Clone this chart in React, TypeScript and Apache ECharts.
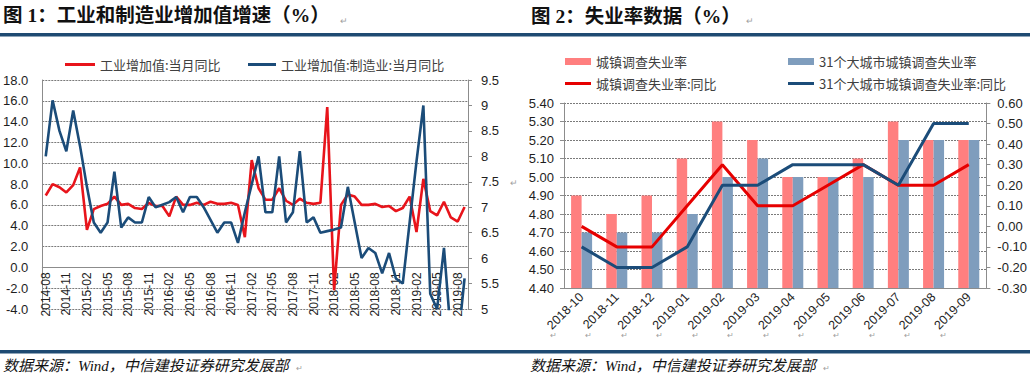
import React, { useEffect, useRef } from "react";
import * as echarts from "echarts";

// ---------- Chart 1 data ----------
const months1 = [
  "2014-08","2014-09","2014-10","2014-11","2014-12",
  "2015-01","2015-02","2015-03","2015-04","2015-05","2015-06","2015-07","2015-08","2015-09","2015-10","2015-11","2015-12",
  "2016-01","2016-02","2016-03","2016-04","2016-05","2016-06","2016-07","2016-08","2016-09","2016-10","2016-11","2016-12",
  "2017-01","2017-02","2017-03","2017-04","2017-05","2017-06","2017-07","2017-08","2017-09","2017-10","2017-11","2017-12",
  "2018-01","2018-02","2018-03","2018-04","2018-05","2018-06","2018-07","2018-08","2018-09","2018-10","2018-11","2018-12",
  "2019-01","2019-02","2019-03","2019-04","2019-05","2019-06","2019-07","2019-08","2019-09",
];
// 工业增加值:当月同比 (left axis)
const industryYoY = [
  6.9, 8.0, 7.7, 7.2, 7.9,
  9.6, 3.6, 5.6, 5.9, 6.1, 6.8, 6.0, 6.1, 5.7, 5.6, 6.2, 5.9,
  5.9, 4.9, 6.8, 6.0, 6.0, 6.2, 6.0, 6.3, 6.1, 6.1, 6.2, 6.0,
  2.9, 10.3, 7.6, 6.5, 6.5, 7.6, 6.4, 6.0, 6.6, 6.2, 6.1, 6.2,
  15.4, -2.2, 6.0, 7.0, 6.8, 6.0, 6.0, 6.1, 5.8, 5.9, 5.4, 5.7,
  6.8, 3.4, 8.5, 5.4, 5.0, 6.3, 4.8, 4.4, 5.8,
];
// 工业增加值:制造业:当月同比 (right axis)
const manufYoY = [
  8.0, 9.1, 8.5, 8.1, 8.9,
  8.2, 7.4, 6.7, 6.5, 6.7, 7.7, 6.6, 6.8, 6.7, 6.7, 7.2, 7.0,
  7.05, 7.1, 7.2, 6.9, 7.2, 7.2, 7.0, 6.75, 6.5, 6.7, 6.7, 6.3,
  6.9, 7.45, 8.0, 6.9, 6.9, 8.0, 6.7, 6.9, 8.1, 6.7, 6.8, 6.5,
  6.53, 6.56, 6.6, 7.4, 6.7, 6.0, 6.2, 6.1, 5.7, 6.1, 5.6, 5.5,
  6.7, 7.9, 9.0, 5.3, 5.0, 6.2, 4.5, 4.3, 5.6,
];
const leftTicks1 = { min: -4, max: 18, step: 2 };
const rightTicks1 = { min: 5, max: 9.5, step: 0.5 };

// ---------- Chart 2 data ----------
const months2 = ["2018-10","2018-11","2018-12","2019-01","2019-02","2019-03","2019-04","2019-05","2019-06","2019-07","2019-08","2019-09"];
const urbanRate = [4.9, 4.8, 4.9, 5.1, 5.3, 5.2, 5.0, 5.0, 5.1, 5.3, 5.2, 5.2];
const city31Rate = [4.7, 4.7, 4.7, 4.8, 5.0, 5.1, 5.0, 5.0, 5.0, 5.2, 5.2, 5.2];
const urbanRateYoY = [0.0, -0.1, -0.1, 0.1, 0.3, 0.1, 0.1, 0.2, 0.3, 0.2, 0.2, 0.3];
const city31RateYoY = [-0.1, -0.2, -0.2, -0.1, 0.2, 0.2, 0.3, 0.3, 0.3, 0.2, 0.5, 0.5];

const NAME_IND = "工业增加值:当月同比";
const NAME_MFG = "工业增加值:制造业:当月同比";
const NAME_UR = "城镇调查失业率";
const NAME_31 = "31个大城市城镇调查失业率";
const NAME_URY = "城镇调查失业率:同比";
const NAME_31Y = "31个大城市城镇调查失业率:同比";

const SANS = "'Liberation Sans', 'Noto Sans CJK SC', sans-serif";
const CJK = "'Noto Sans CJK SC', sans-serif";
const TITLE_FONT = "'Liberation Serif', 'Noto Sans CJK SC', serif";

const RED = "#E8141B";
const NAVY = "#1B4C79";
const PINK = "#FF7F7F";
const STEEL = "#7F9DBD";
const AXIS = "#8C8C8C";
const GRID = "#7A7A7A";
const LABEL = "#1E1E1E";

// grid geometry
const G1_TOP = 80;
const G1_BOTTOM_PX = 309;
const G2_LEFT = 564;
const G2_RIGHT_PX = 989;

export default function App() {
  const ref = useRef<HTMLDivElement>(null);

  useEffect(() => {
    if (!ref.current) return;
    const chart = echarts.init(ref.current, null, { renderer: "svg" });

    const legendBase = {
      orient: "horizontal",
      textStyle: { color: "#404040", fontSize: 13, fontFamily: CJK },
      selectedMode: false,
    };

    const retMark = (x: number, y: number, size = 9) => ({
      type: "text",
      x,
      y,
      style: { text: "↵", fontSize: size, fill: "#A0A0A0", fontFamily: SANS, verticalAlign: "middle" },
    });

    // x axis of chart 1 sits on the zero line of the left axis
    const h1 = G1_BOTTOM_PX - G1_TOP;
    const zeroOffset = -((0 - leftTicks1.min) / (leftTicks1.max - leftTicks1.min)) * h1;

    // paragraph marks below the right chart's category labels
    const catW = (G2_RIGHT_PX - G2_LEFT) / months2.length;
    const labelMarks = months2.map((_, k) => retMark(G2_LEFT + catW * k - 14, 335, 8));

    const option: any = {
      animation: false,
      textStyle: { fontFamily: SANS },
      graphic: [
        {
          type: "text",
          x: 3,
          y: 15,
          style: {
            text: "图 1：工业和制造业增加值增速（%）",
            fontSize: 19.5,
            fontWeight: "bold",
            fontFamily: TITLE_FONT,
            fill: "#111",
            verticalAlign: "middle",
          },
        },
        retMark(340, 21),
        {
          type: "text",
          x: 531,
          y: 16,
          style: {
            text: "图 2：失业率数据（%）",
            fontSize: 19.5,
            fontWeight: "bold",
            fontFamily: TITLE_FONT,
            fill: "#111",
            verticalAlign: "middle",
          },
        },
        retMark(746, 21),
        { type: "rect", shape: { x: 0, y: 33, width: 1030, height: 3.5 }, style: { fill: "#1E4A72" } },
        { type: "rect", shape: { x: 0, y: 350, width: 1030, height: 3.5 }, style: { fill: "#1E4A72" } },
        retMark(510, 183),
        ...labelMarks,
        {
          type: "text",
          x: 3,
          y: 366,
          style: {
            text: "数据来源：Wind，中信建投证券研究发展部",
            fontSize: 15,
            fontStyle: "italic",
            fontFamily: TITLE_FONT,
            fill: "#111",
            verticalAlign: "middle",
          },
        },
        retMark(296, 368, 8),
        {
          type: "text",
          x: 530,
          y: 366,
          style: {
            text: "数据来源：Wind，中信建投证券研究发展部",
            fontSize: 15,
            fontStyle: "italic",
            fontFamily: TITLE_FONT,
            fill: "#111",
            verticalAlign: "middle",
          },
        },
        retMark(823, 368, 8),
      ],
      legend: [
        { ...legendBase, left: 60, top: 53, itemWidth: 30, itemHeight: 3, data: [{ name: NAME_IND, icon: "rect" }] },
        { ...legendBase, left: 243, top: 53, itemWidth: 28, itemHeight: 3, data: [{ name: NAME_MFG, icon: "rect" }] },
        { ...legendBase, left: 560, top: 50, itemWidth: 26, itemHeight: 7, data: [{ name: NAME_UR, icon: "rect" }] },
        { ...legendBase, left: 783, top: 50, itemWidth: 26, itemHeight: 7, data: [{ name: NAME_31, icon: "rect" }] },
        { ...legendBase, left: 560, top: 72, itemWidth: 26, itemHeight: 3, data: [{ name: NAME_URY, icon: "rect" }] },
        { ...legendBase, left: 783, top: 72, itemWidth: 26, itemHeight: 3, data: [{ name: NAME_31Y, icon: "rect" }] },
      ],
      grid: [
        { left: 39, right: 562, top: G1_TOP, bottom: 380 - G1_BOTTOM_PX },
        { left: G2_LEFT, right: 1030 - G2_RIGHT_PX, top: 103, bottom: 92 },
      ],
      xAxis: [
        {
          gridIndex: 0,
          type: "category",
          data: months1,
          boundaryGap: true,
          offset: zeroOffset,
          axisLine: { onZero: false, lineStyle: { color: AXIS, width: 1 } },
          axisTick: { interval: 2, length: 5, lineStyle: { color: AXIS } },
          axisLabel: { interval: 2, rotate: 90, fontSize: 12, color: LABEL, margin: 5 },
          splitLine: { show: false },
        },
        {
          gridIndex: 1,
          type: "category",
          data: months2,
          boundaryGap: true,
          axisLine: { onZero: false, lineStyle: { color: AXIS, width: 1 } },
          axisTick: { length: 5, lineStyle: { color: AXIS } },
          axisLabel: { interval: 0, rotate: 45, fontSize: 12.5, color: LABEL, margin: 7 },
          splitLine: { show: false },
        },
      ],
      yAxis: [
        {
          gridIndex: 0,
          type: "value",
          min: leftTicks1.min,
          max: leftTicks1.max,
          interval: leftTicks1.step,
          axisLine: { show: true, lineStyle: { color: AXIS } },
          axisTick: { show: false },
          axisLabel: { fontSize: 13, color: LABEL, margin: 14, formatter: (v: number) => v.toFixed(1) },
          splitLine: { show: true, lineStyle: { color: GRID, type: [2, 1], width: 1 } },
        },
        {
          gridIndex: 0,
          type: "value",
          position: "right",
          min: rightTicks1.min,
          max: rightTicks1.max,
          interval: rightTicks1.step,
          axisLine: { show: true, lineStyle: { color: AXIS } },
          axisTick: { show: true, length: 4, lineStyle: { color: AXIS } },
          axisLabel: { fontSize: 13, color: LABEL, margin: 13, formatter: (v: number) => String(v) },
          splitLine: { show: false },
        },
        {
          gridIndex: 1,
          type: "value",
          min: 4.4,
          max: 5.4,
          interval: 0.1,
          axisLine: { show: true, lineStyle: { color: AXIS } },
          axisTick: { show: true, length: 4, lineStyle: { color: AXIS } },
          axisLabel: { fontSize: 13, color: LABEL, margin: 10, formatter: (v: number) => v.toFixed(2) },
          splitLine: { show: true, lineStyle: { color: GRID, type: [2, 1], width: 1 } },
        },
        {
          gridIndex: 1,
          type: "value",
          position: "right",
          min: -0.3,
          max: 0.6,
          interval: 0.1,
          axisLine: { show: true, lineStyle: { color: AXIS } },
          axisTick: { show: true, length: 4, lineStyle: { color: AXIS } },
          axisLabel: { fontSize: 13, color: LABEL, margin: 11, formatter: (v: number) => v.toFixed(2) },
          splitLine: { show: false },
        },
      ],
      series: [
        {
          name: NAME_IND,
          type: "line",
          xAxisIndex: 0,
          yAxisIndex: 0,
          data: industryYoY,
          symbol: "none",
          itemStyle: { color: RED },
          lineStyle: { color: RED, width: 2.6 },
          z: 3,
        },
        {
          name: NAME_MFG,
          type: "line",
          xAxisIndex: 0,
          yAxisIndex: 1,
          data: manufYoY,
          symbol: "none",
          clip: true,
          itemStyle: { color: NAVY },
          lineStyle: { color: NAVY, width: 2.6 },
          z: 4,
        },
        {
          name: NAME_UR,
          type: "bar",
          xAxisIndex: 1,
          yAxisIndex: 2,
          data: urbanRate,
          barWidth: 10.5,
          barGap: "0%",
          itemStyle: { color: PINK },
        },
        {
          name: NAME_31,
          type: "bar",
          xAxisIndex: 1,
          yAxisIndex: 2,
          data: city31Rate,
          barWidth: 10.5,
          barGap: "0%",
          itemStyle: { color: STEEL },
        },
        {
          name: NAME_URY,
          type: "line",
          xAxisIndex: 1,
          yAxisIndex: 3,
          data: urbanRateYoY,
          symbol: "none",
          itemStyle: { color: "#E60000" },
          lineStyle: { color: "#E60000", width: 3 },
          z: 4,
        },
        {
          name: NAME_31Y,
          type: "line",
          xAxisIndex: 1,
          yAxisIndex: 3,
          data: city31RateYoY,
          symbol: "none",
          itemStyle: { color: NAVY },
          lineStyle: { color: NAVY, width: 3 },
          z: 4,
        },
      ],
    };

    chart.setOption(option);
    return () => chart.dispose();
  }, []);

  return (
    <div
      ref={ref}
      style={{ position: "fixed", left: 0, top: 0, width: 1030, height: 380, background: "#fff" }}
    />
  );
}
